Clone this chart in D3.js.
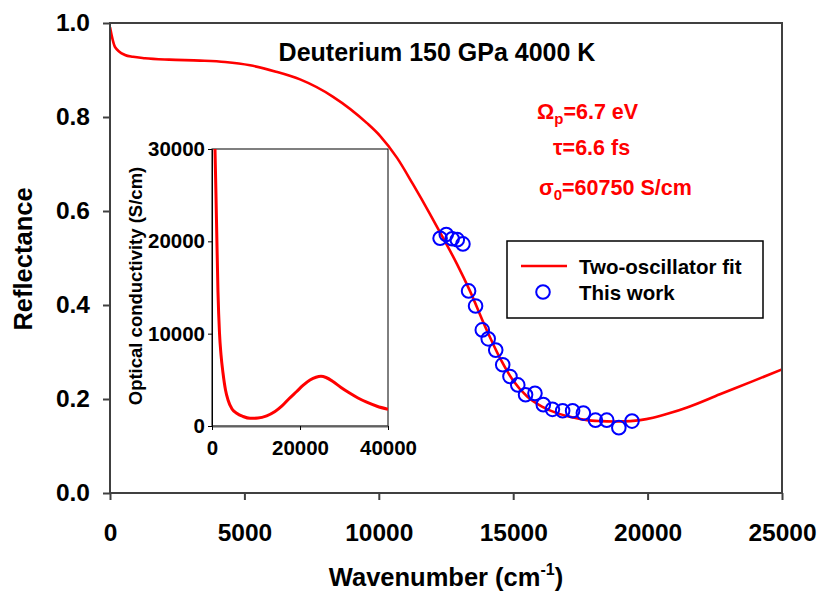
<!DOCTYPE html>
<html>
<head>
<meta charset="utf-8">
<script src="https://cdn.jsdelivr.net/npm/d3@7"></script>
<style>
  html, body { margin: 0; padding: 0; background: #fff; }
  svg { display: block; font-family: Arial, "Liberation Sans", sans-serif; font-weight: bold; }
</style>
</head>
<body>
<svg id="chart" width="822" height="595"></svg>
<script>
// Two-oscillator fit of the reflectance (wavenumber in cm^-1, reflectance)
const fitWavenumber = [0, 186, 558, 856, 1300, 2200, 3350, 4280, 5210, 6140, 7070, 8300, 9560, 10045,
  10680, 11270, 11900, 12390, 12910, 13390, 13950, 14510, 14990, 15510, 16070, 16630, 17190, 17750,
  18300, 18860, 19350, 19720, 20200, 20830, 21470, 22690, 23920, 25000];
const fitReflectance = [0.991, 0.949, 0.932, 0.928, 0.925, 0.922, 0.920, 0.917, 0.910, 0.897, 0.880, 0.843, 0.787, 0.760,
  0.713, 0.657, 0.594, 0.543, 0.487, 0.430, 0.355, 0.287, 0.240, 0.206, 0.184, 0.170, 0.161, 0.155,
  0.153, 0.152, 0.153, 0.155, 0.160, 0.170, 0.182, 0.210, 0.238, 0.263];

// Measured reflectance ("This work")
const dataWavenumber = [12280, 12510, 12730, 12920, 13130, 13340, 13600, 13850, 14070, 14350, 14610, 14880,
  15170, 15460, 15810, 16120, 16460, 16840, 17210, 17610, 18060, 18480, 18930, 19420];
const dataReflectance = [0.542, 0.550, 0.541, 0.539, 0.530, 0.430, 0.398, 0.347, 0.328, 0.304, 0.273, 0.248,
  0.230, 0.209, 0.212, 0.188, 0.178, 0.175, 0.175, 0.170, 0.155, 0.155, 0.139, 0.153];

// Optical conductivity from the fit (wavenumber in cm^-1, S/cm), shown in the inset
const condWavenumber = [340, 680, 1020, 1360, 1700, 2050, 2500, 3070, 3640, 4550, 5610, 7050, 8640, 10450,
  12430, 14320, 15910, 17500, 19250, 20680, 22270, 23640, 24770, 25910, 27570, 29320, 31360, 33180,
  35160, 37500, 40000];
const condValue = [35300, 30000, 22300, 14500, 10100, 7700, 5740, 3900, 2820, 1840, 1375, 1030, 834, 866,
  1105, 1570, 2170, 2950, 3740, 4390, 4980, 5285, 5383, 5253, 4787, 4170, 3541, 3032,
  2578, 2144, 1809];

// Axis ticks
const xTicks = [0, 5000, 10000, 15000, 20000, 25000];
const yTicks = [0, 0.2, 0.4, 0.6, 0.8, 1.0];
const insetXTicks = [0, 20000, 40000];
const insetYTicks = [0, 10000, 20000, 30000];

const fit = fitWavenumber.map((v, i) => ({ v, r: fitReflectance[i] }));
const data = dataWavenumber.map((v, i) => ({ v, r: dataReflectance[i] }));
const cond = condWavenumber.map((v, i) => ({ v, s: condValue[i] }));

const svg = d3.select("#chart");
const axisColor = "#404040";
const fontFamily = "Arial, 'Liberation Sans', sans-serif";

// ---------- main panel ----------
const x = d3.scaleLinear().domain([0, 25000]).range([110, 782]);
const y = d3.scaleLinear().domain([0, 1]).range([493, 23]);

svg.append("clipPath").attr("id", "mainClip")
  .append("rect").attr("x", 110).attr("y", 23).attr("width", 672).attr("height", 470);

const xAxis = svg.append("g").attr("transform", `translate(0,${y(0)})`)
  .call(d3.axisBottom(x).tickValues(xTicks).tickFormat(d3.format("d")).tickSize(7).tickSizeOuter(0).tickPadding(24));
const yAxis = svg.append("g").attr("transform", `translate(${x(0)},0)`)
  .call(d3.axisLeft(y).tickValues(yTicks).tickFormat(d3.format(".1f")).tickSize(7).tickSizeOuter(0).tickPadding(13));
[xAxis, yAxis].forEach(g => {
  g.select(".domain").remove();
  g.selectAll(".tick line").attr("stroke", axisColor).attr("stroke-width", 2);
  g.selectAll(".tick text").attr("fill", "#000").attr("font-size", 24.5).attr("font-weight", "bold")
    .attr("font-family", fontFamily);
});

// fitted curve
svg.append("path")
  .datum(fit)
  .attr("clip-path", "url(#mainClip)")
  .attr("fill", "none")
  .attr("stroke", "#ff0000")
  .attr("stroke-width", 2.6)
  .attr("d", d3.line().x(d => x(d.v)).y(d => y(d.r)).curve(d3.curveMonotoneX));

// measured points
svg.append("g").selectAll("circle")
  .data(data).join("circle")
  .attr("cx", d => x(d.v)).attr("cy", d => y(d.r)).attr("r", 6.8)
  .attr("fill", "none").attr("stroke", "#0000ff").attr("stroke-width", 2);

// frame
svg.append("rect").attr("x", 110).attr("y", 23).attr("width", 672).attr("height", 470)
  .attr("fill", "none").attr("stroke", axisColor).attr("stroke-width", 2);

// axis titles
const xTitle = svg.append("text").attr("x", 446).attr("y", 586).attr("text-anchor", "middle").attr("font-size", 25.5);
xTitle.append("tspan").text("Wavenumber (cm");
xTitle.append("tspan").attr("font-size", 16).attr("dy", -11).text("-1");
xTitle.append("tspan").attr("dy", 11).text(")");
svg.append("text").attr("transform", "translate(32,259) rotate(-90)").attr("text-anchor", "middle")
  .attr("font-size", 25.5).text("Reflectance");

// title
svg.append("text").attr("x", 437).attr("y", 61).attr("text-anchor", "middle").attr("font-size", 25)
  .text("Deuterium 150 GPa 4000 K");

// fit parameters
const params = svg.append("g").attr("fill", "#ff0000").attr("font-size", 21.5);
const p1 = params.append("text").attr("x", 537).attr("y", 119);
p1.append("tspan").text("\u03A9");
p1.append("tspan").attr("font-size", 15).attr("dy", 5).text("p");
p1.append("tspan").attr("dy", -5).text("=6.7 eV");
params.append("text").attr("x", 553).attr("y", 155).text("\u03C4=6.6 fs");
const p3 = params.append("text").attr("x", 539).attr("y", 195);
p3.append("tspan").text("\u03C3");
p3.append("tspan").attr("font-size", 15).attr("dy", 5).text("0");
p3.append("tspan").attr("dy", -5).text("=60750 S/cm");

// legend
const lg = svg.append("g");
lg.append("rect").attr("x", 507).attr("y", 241).attr("width", 256).attr("height", 77)
  .attr("fill", "#fff").attr("stroke", "#000").attr("stroke-width", 1.5);
lg.append("line").attr("x1", 521).attr("x2", 567).attr("y1", 266).attr("y2", 266)
  .attr("stroke", "#ff0000").attr("stroke-width", 2.6);
lg.append("circle").attr("cx", 543).attr("cy", 292).attr("r", 6.8)
  .attr("fill", "none").attr("stroke", "#0000ff").attr("stroke-width", 2);
lg.append("text").attr("x", 579).attr("y", 274).attr("font-size", 20.5).text("Two-oscillator fit");
lg.append("text").attr("x", 579).attr("y", 300).attr("font-size", 20.5).text("This work");

// ---------- inset: optical conductivity ----------
const ix = d3.scaleLinear().domain([0, 40000]).range([212, 388]);
const iy = d3.scaleLinear().domain([0, 30000]).range([426, 149]);

svg.append("clipPath").attr("id", "insetClip")
  .append("rect").attr("x", 212).attr("y", 149).attr("width", 176).attr("height", 277);

svg.append("rect").attr("x", 212).attr("y", 149).attr("width", 176).attr("height", 277)
  .attr("fill", "#fff").attr("stroke", "#000").attr("stroke-width", 1);

const ixAxis = svg.append("g").attr("transform", `translate(0,${iy(0)})`)
  .call(d3.axisBottom(ix).tickValues(insetXTicks).tickFormat(d3.format("d")).tickSize(4).tickSizeOuter(0).tickPadding(10));
const iyAxis = svg.append("g").attr("transform", `translate(${ix(0)},0)`)
  .call(d3.axisLeft(iy).tickValues(insetYTicks).tickFormat(d3.format("d")).tickSize(4).tickSizeOuter(0).tickPadding(3));
ixAxis.select(".domain").attr("stroke", "#606060").attr("stroke-width", 2);
iyAxis.select(".domain").attr("stroke", "#000").attr("stroke-width", 1);
[ixAxis, iyAxis].forEach(g => {
  g.selectAll(".tick line").attr("stroke", "#000").attr("stroke-width", 1);
  g.selectAll(".tick text").attr("fill", "#000").attr("font-size", 20.5).attr("font-weight", "bold")
    .attr("font-family", fontFamily);
});

svg.append("path")
  .datum(cond)
  .attr("clip-path", "url(#insetClip)")
  .attr("fill", "none")
  .attr("stroke", "#ff0000")
  .attr("stroke-width", 3)
  .attr("d", d3.line().x(d => ix(d.v)).y(d => iy(d.s)).curve(d3.curveMonotoneX));

svg.append("text").attr("transform", "translate(142,286) rotate(-90)").attr("text-anchor", "middle")
  .attr("font-size", 18.5).text("Optical conductivity (S/cm)");
</script>
</body>
</html>
